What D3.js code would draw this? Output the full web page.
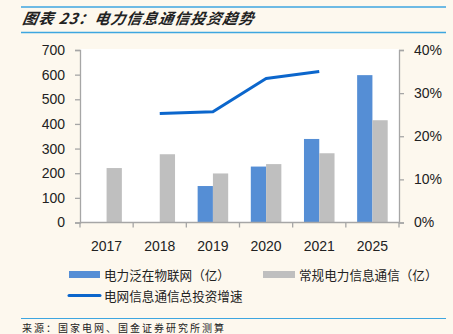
<!DOCTYPE html>
<html>
<head>
<meta charset="utf-8">
<script src="https://cdn.jsdelivr.net/npm/d3@7"></script>
<style>
  html, body { margin: 0; padding: 0; background: #fdf8ee; }
  svg { display: block; }
</style>
</head>
<body>
<div id="chart"></div>
<script>
// chart data
var categories = ["2017", "2018", "2019", "2020", "2021", "2025"];
var iotValues = [null, null, 148, 227, 339, 598];        // 电力泛在物联网（亿）
var regularValues = [221, 277, 199, 237, 281, 415];    // 常规电力信息通信（亿）
var growthValues = [null, 0.253, 0.257, 0.334, 0.350, null]; // 电网信息通信总投资增速
var leftTicks = [0, 100, 200, 300, 400, 500, 600, 700];
var rightTicks = [0, 0.1, 0.2, 0.3, 0.4];
var seriesNames = ["电力泛在物联网（亿）", "常规电力信息通信（亿）", "电网信息通信总投资增速"];

var W = 453, H = 334;
var blue = "#558ed5", grey = "#bfbfbf", lineBlue = "#0b66cc", axisGrey = "#a6a6a6";
var font = "'Liberation Sans', Arial, sans-serif";
var cjk = "'Noto Sans CJK SC', sans-serif";

var svg = d3.select("#chart").append("svg")
    .attr("width", W).attr("height", H);

// header rules + title
svg.append("line").attr("x1", 21).attr("x2", 446).attr("y1", 7).attr("y2", 7)
   .attr("stroke", "#3ea6e0").attr("stroke-width", 1.5);
svg.append("line").attr("x1", 21).attr("x2", 446).attr("y1", 32.5).attr("y2", 32.5)
   .attr("stroke", "#3ea6e0").attr("stroke-width", 1.5);
svg.append("text").attr("x", 22).attr("y", 24)
   .attr("font-family", cjk).attr("font-size", 15).attr("font-weight", "bold")
   .attr("font-style", "italic").attr("letter-spacing", 1).attr("fill", "#222")
   .attr("transform", "skewX(-10) translate(4,0)")
   .text("图表 23：电力信息通信投资趋势");

var pLeft = 80, pRight = 399, pTop = 50, pBottom = 222.5;

var x = d3.scaleBand().domain(categories).range([pLeft, pRight]);
var x1 = d3.scaleBand().domain([0, 1]).range([0, x.bandwidth()]).paddingOuter(0.74);
var y = d3.scaleLinear().domain([0, 700]).range([pBottom, pTop]);
var y2 = d3.scaleLinear().domain([0, 0.4]).range([pBottom, pTop]);

// white plot area
svg.append("rect").attr("x", pLeft).attr("y", pTop - 1)
   .attr("width", pRight - pLeft).attr("height", pBottom - pTop + 1).attr("fill", "#fff");

// bars
var barData = [];
categories.forEach(function(c, i) {
  if (iotValues[i] != null) barData.push({cat: c, s: 0, v: iotValues[i]});
  if (regularValues[i] != null) barData.push({cat: c, s: 1, v: regularValues[i]});
});
svg.append("g").selectAll("rect").data(barData).enter().append("rect")
   .attr("x", function(d) { return x(d.cat) + x1(d.s); })
   .attr("width", x1.bandwidth())
   .attr("y", function(d) { return y(d.v); })
   .attr("height", function(d) { return y(0) - y(d.v); })
   .attr("fill", function(d) { return d.s === 0 ? blue : grey; });

// line
var lineData = categories.map(function(c, i) { return {cat: c, v: growthValues[i]}; })
    .filter(function(d) { return d.v != null; });
svg.append("path").datum(lineData)
   .attr("fill", "none").attr("stroke", lineBlue).attr("stroke-width", 3)
   .attr("stroke-linejoin", "round")
   .attr("d", d3.line()
      .x(function(d) { return x(d.cat) + x.bandwidth() / 2; })
      .y(function(d) { return y2(d.v); }));

function styleAxis(g) {
  g.select(".domain").attr("stroke", axisGrey).attr("stroke-width", 1.3);
  g.selectAll(".tick line").attr("stroke", axisGrey).attr("stroke-width", 1.3);
  g.selectAll("text").attr("font-family", font).attr("font-size", 14).attr("fill", "#222");
}

// left axis
svg.append("g").attr("transform", "translate(" + pLeft + ",0)")
   .call(d3.axisLeft(y).tickValues(leftTicks).tickSize(5).tickSizeOuter(5).tickPadding(10))
   .call(styleAxis);

// right axis
svg.append("g").attr("transform", "translate(" + pRight + ",0)")
   .call(d3.axisRight(y2).tickValues(rightTicks).tickFormat(d3.format(".0%"))
         .tickSize(5).tickSizeOuter(5).tickPadding(10))
   .call(styleAxis);

// x axis: ticks at category boundaries
var xg = svg.append("g").attr("transform", "translate(0," + pBottom + ")");
xg.append("line").attr("x1", pLeft).attr("x2", pRight).attr("stroke", axisGrey).attr("stroke-width", 1.3);
xg.selectAll(".sep").data(categories.concat(["end"])).enter().append("line")
   .attr("x1", function(d, i) { return pLeft + i * x.step(); })
   .attr("x2", function(d, i) { return pLeft + i * x.step(); })
   .attr("y1", 0).attr("y2", 5).attr("stroke", axisGrey).attr("stroke-width", 1.3);
xg.selectAll(".lbl").data(categories).enter().append("text")
   .attr("x", function(d) { return x(d) + x.bandwidth() / 2; })
   .attr("y", 28).attr("text-anchor", "middle")
   .attr("font-family", font).attr("font-size", 14).attr("fill", "#222")
   .text(function(d) { return d; });

// legend
var lg = svg.append("g").attr("font-family", cjk).attr("font-size", 12.6).attr("fill", "#222");
lg.append("rect").attr("x", 69).attr("y", 271).attr("width", 31).attr("height", 7).attr("fill", blue);
lg.append("text").attr("x", 104).attr("y", 279.5).text(seriesNames[0]);
lg.append("rect").attr("x", 263).attr("y", 271).attr("width", 32).attr("height", 7).attr("fill", grey);
lg.append("text").attr("x", 299).attr("y", 279.5).text(seriesNames[1]);
lg.append("line").attr("x1", 69).attr("x2", 100).attr("y1", 295.5).attr("y2", 295.5)
  .attr("stroke", lineBlue).attr("stroke-width", 3).attr("stroke-linecap", "round");
lg.append("text").attr("x", 104).attr("y", 301).text(seriesNames[2]);

// source
svg.append("line").attr("x1", 21).attr("x2", 446).attr("y1", 318.5).attr("y2", 318.5)
   .attr("stroke", "#3ea6e0").attr("stroke-width", 1.2);
svg.append("text").attr("x", 22).attr("y", 331.5)
   .attr("font-family", cjk).attr("font-size", 10).attr("letter-spacing", 2).attr("fill", "#222")
   .text("来源：国家电网、国金证券研究所测算");
</script>
</body>
</html>
